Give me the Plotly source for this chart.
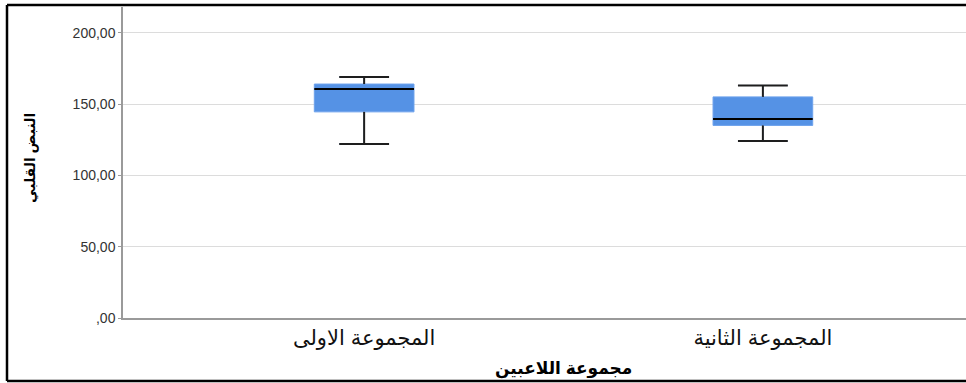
import plotly.graph_objects as go

# Five-number summaries per player group
groups = ["المجموعة الاولى", "المجموعة الثانية"]
lower_whisker = [122.0, 124.0]
q1_values = [144.5, 135.0]
median_values = [160.5, 139.5]
q3_values = [164.0, 155.0]
upper_whisker = [169.0, 163.0]

y_ticks = [0, 50, 100, 150, 200]
y_tick_labels = [",00", "50,00", "100,00", "150,00", "200,00"]

x_title = "مجموعة اللاعبين"
y_title = "النبض القلبي"

W, H = 966, 383
ML, MR, MT, MB = 123, 0, 7, 65
PW, PH = W - ML - MR, H - MT - MB

positions = list(range(len(groups)))
box_width = 0.25
cap_half = 0.0625

fig = go.Figure()

fig.add_trace(go.Box(
    x=positions,
    q1=q1_values, median=median_values, q3=q3_values,
    lowerfence=lower_whisker, upperfence=upper_whisker,
    width=box_width, whiskerwidth=0.5,
    fillcolor="#5592E5",
    line=dict(color="#6da2ec", width=1),
    boxpoints=False, showlegend=False, hoverinfo="skip",
))

# Black whiskers, caps and median lines drawn over the box body
wx, wy, mx, my = [], [], [], []
for p, lo, a, m, b, hi in zip(positions, lower_whisker, q1_values,
                              median_values, q3_values, upper_whisker):
    wx += [p, p, None, p, p, None,
           p - cap_half, p + cap_half, None, p - cap_half, p + cap_half, None]
    wy += [b, hi, None, a, lo, None, hi, hi, None, lo, lo, None]
    mx += [p - box_width / 2, p + box_width / 2, None]
    my += [m, m, None]

fig.add_trace(go.Scatter(x=wx, y=wy, mode="lines",
                         line=dict(color="#1e1e1e", width=2),
                         showlegend=False, hoverinfo="skip"))
fig.add_trace(go.Scatter(x=mx, y=my, mode="lines",
                         line=dict(color="#000000", width=2),
                         showlegend=False, hoverinfo="skip"))

x_lo = -(364 - ML) / 398.5
x_hi = 1 + (W - 763) / 398.5

fig.update_layout(
    width=W, height=H,
    margin=dict(l=ML, r=MR, t=MT, b=MB, pad=0),
    paper_bgcolor="white", plot_bgcolor="white",
    font=dict(family="Liberation Sans, Arial, sans-serif", color="#222"),
    xaxis=dict(
        range=[x_lo, x_hi], tickvals=positions, ticktext=groups,
        showgrid=False, zeroline=False, showline=True,
        linecolor="#9a9a9a", linewidth=1.5, ticks="",
        tickfont=dict(size=21, color="#111",
                      family="Liberation Sans, Arial, DejaVu Sans, sans-serif"),
    ),
    yaxis=dict(
        range=[0, 218], tickvals=y_ticks, ticktext=y_tick_labels,
        showgrid=True, gridcolor="#dcdcdc", gridwidth=1,
        zeroline=False, showline=True, linecolor="#9a9a9a", linewidth=1.5,
        ticks="outside", ticklen=3, tickcolor="#9a9a9a",
        ticklabelstandoff=0,
        tickfont=dict(size=14, color="#333"),
    ),
)

fig.add_annotation(
    text="<b>" + x_title + "</b>", xref="x", yref="paper",
    x=0.5, y=(318 - 369) / PH, xanchor="center", yanchor="middle",
    showarrow=False,
    font=dict(size=17, color="#000",
              family="Liberation Sans, Arial, DejaVu Sans, sans-serif"),
)
fig.add_annotation(
    text="<b>" + y_title + "</b>", xref="paper", yref="paper",
    x=(30 - ML) / PW, y=(318 - 158) / PH, xanchor="center", yanchor="middle",
    textangle=-90, showarrow=False,
    font=dict(size=14, color="#000",
              family="Liberation Sans, Arial, DejaVu Sans, sans-serif"),
)

# Frame around the chart (left, top and bottom edges)
left_px, top_px, bottom_px = 7, 5, 381
xl = (left_px - ML) / PW
yt = (H - MB - top_px) / PH
yb = (H - MB - bottom_px) / PH
for x0, y0, x1, y1 in [(xl, yb, xl, yt), (xl, yt, 1.02, yt), (xl, yb, 1.02, yb)]:
    fig.add_shape(type="line", xref="paper", yref="paper",
                  x0=x0, y0=y0, x1=x1, y1=y1,
                  line=dict(color="#000", width=2.5))

fig.write_html("out.html")
